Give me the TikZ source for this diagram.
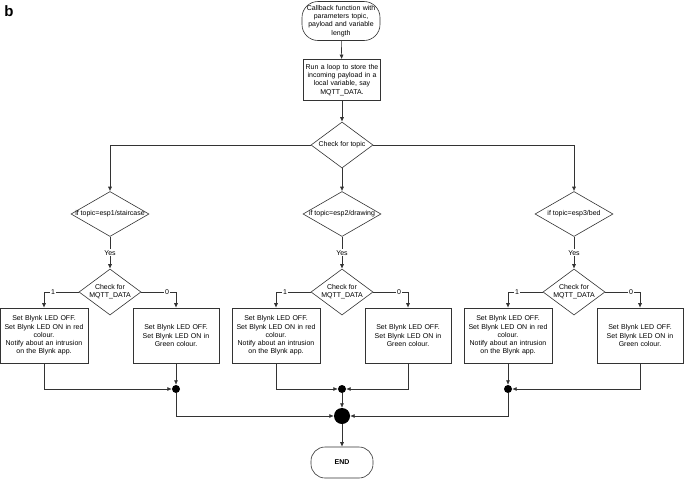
\documentclass[tikz,border=0pt]{standalone}
\usepackage{fontspec}
\setmainfont{Liberation Sans}
\usetikzlibrary{arrows.meta,positioning,shapes.geometric}
\definecolor{cK}{HTML}{333333}
\tikzset{
  txt/.style={font=\fontsize{7}{8.3}\selectfont,align=center},
  base/.style={txt,draw=cK,line width=0.6pt,fill=white},
  term/.style={base,rectangle,rounded corners=16pt,inner sep=1pt},
  proc/.style={base,rectangle,inner sep=2pt},
  dec/.style={base,diamond,inner sep=0pt},
  jdot/.style={circle,fill=black,inner sep=0pt,minimum size=8pt},
  flow/.style={-{Latex[length=4.5pt,width=4pt]},draw=cK,line width=0.6pt},
  tag/.style={txt,fill=white,inner sep=1pt},
}

\begin{document}
\begin{tikzpicture}[x=1pt,y=-1pt]
  \useasboundingbox (0,0) rectangle (685,480);
  \node[font=\bfseries\fontsize{15}{15}\selectfont] (fig) at (9,11) {b};
  \node[term,text width=76pt,minimum height=39pt] (start) at (341,21)
    {Callback function with\\parameters topic,\\payload and variable\\length};
  \node[proc,text width=73pt,minimum height=41pt] (loop) at (342,80)
    {Run a loop to store the\\incoming payload in a\\local variable, say\\MQTT\_DATA.};
  \node[dec,minimum width=62pt,minimum height=46pt,
        label={[txt]center:Check for topic}] (topic) at (342,145) {};
  \draw[flow] (start) -- (loop);
  \draw[flow] (loop) -- (topic);

  % one branch per topic
  \foreach \i/\x/\t in {1/110/{esp1/staircase},2/342/{esp2/drawing},3/574/{esp3/bed}}{
    \node[dec,minimum width=78pt,minimum height=45pt,
          label={[txt]center:if topic=\t}] (s\i) at (\x,214) {};
    \node[dec,minimum width=62pt,minimum height=46pt,
          label={[txt]center:Check for\\MQTT\_DATA}] (c\i) at (\x,292) {};
    \node[proc,text width=84pt,minimum height=55pt] (l\i) at ({\x-66},335.5)
      {Set Blynk LED OFF.\\Set Blynk LED ON in red\\colour.\\Notify about an intrusion\\on the Blynk app.};
    \node[proc,text width=82pt,minimum height=55pt] (r\i) at ({\x+66},335.5)
      {Set Blynk LED OFF.\\Set Blynk LED ON in\\Green colour.};
    \draw[flow] (s\i) -- node[tag]{Yes} (c\i);
    \draw[flow] (c\i.west) -| node[tag,pos=0.37]{1} (l\i.north);
    \draw[flow] (c\i.east) -| node[tag,pos=0.37]{0} (r\i.north);
  }
  \draw[flow] (topic.west) -| (s1.north);
  \draw[flow] (topic) -- (s2);
  \draw[flow] (topic.east) -| (s3.north);

  % joins
  \node[jdot] (j1) at (176,389) {};
  \node[jdot] (j2) at (342,389) {};
  \node[jdot] (j3) at (508,389) {};
  \node[jdot,minimum size=16pt] (join) at (342,416) {};
  \node[term,rounded corners=14pt,minimum width=62pt,minimum height=31pt,
        font=\bfseries\fontsize{7}{8.3}\selectfont] (end) at (342,462.5) {END};
  \draw[flow] (l1.south) |- (j1);
  \draw[flow] (r1) -- (j1);
  \draw[flow] (l2.south) |- (j2);
  \draw[flow] (r2.south) |- (j2);
  \draw[flow] (l3) -- (j3);
  \draw[flow] (r3.south) |- (j3);
  \draw[flow] (j1) |- (join);
  \draw[flow] (j3) |- (join);
  \draw[flow] (j2) -- (join);
  \draw[flow] (join) -- (end);
\end{tikzpicture}
\end{document}
